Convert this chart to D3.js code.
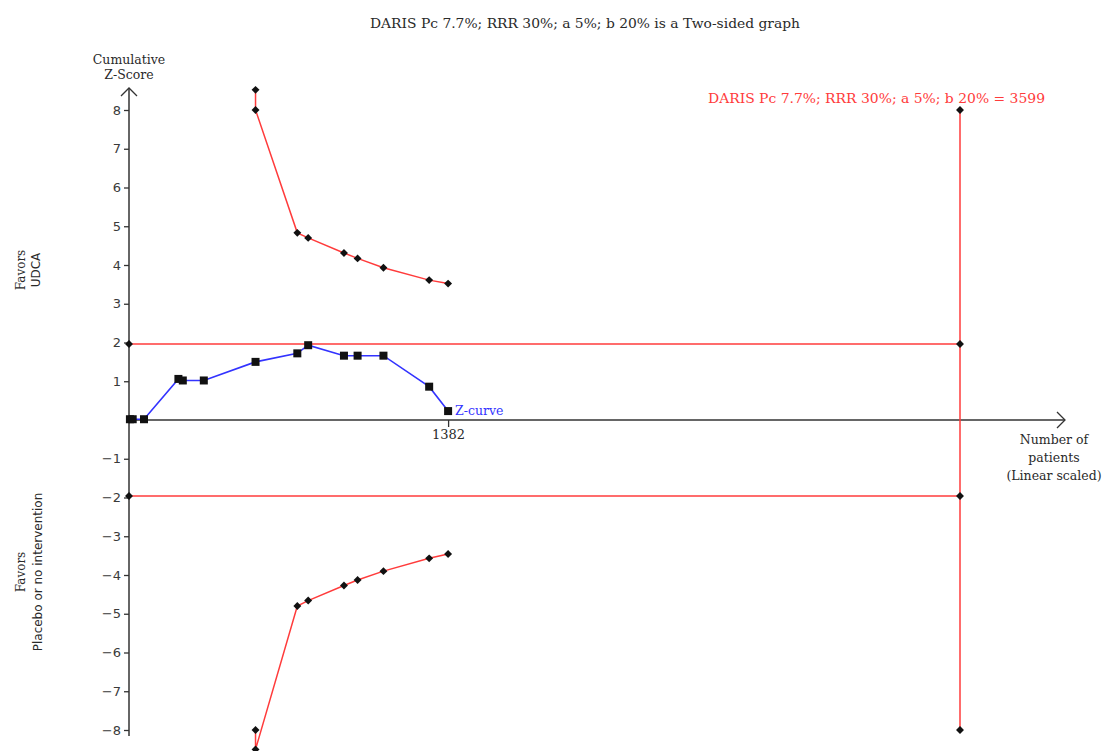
<!DOCTYPE html>
<html>
<head>
<meta charset="utf-8">
<script src="https://cdn.jsdelivr.net/npm/d3@7"></script>
<style>
  html, body { margin: 0; padding: 0; background: #fff; }
  svg { display: block; }
</style>
</head>
<body>
<svg id="chart" width="1105" height="751"></svg>
<script>
// Cumulative patients at each interim look
const patients = [4, 16, 65, 214, 233, 324, 548, 729, 776, 931, 990, 1102, 1300, 1382];
// Cumulative Z-score for UDCA vs placebo
const zCurve = [0.02, 0.02, 0.02, 1.06, 1.02, 1.02, 1.50, 1.72, 1.93, 1.66, 1.66, 1.66, 0.86, 0.23];

// Trial sequential monitoring boundaries (O'Brien-Fleming type)
const boundaryPatients = [548, 548, 729, 776, 931, 990, 1102, 1300, 1382];
const upperBoundary = [8.52, 8.0, 4.83, 4.70, 4.31, 4.17, 3.93, 3.61, 3.52];
const lowerBoundary = [-8.0, -8.5, -4.80, -4.66, -4.27, -4.13, -3.90, -3.57, -3.46];

const requiredSize = 3599;
const conventional = 1.96;
const yTicks = [-8, -7, -6, -5, -4, -3, -2, -1, 1, 2, 3, 4, 5, 6, 7, 8];
const xTicks = [1382];

const titleText = "DARIS Pc 7.7%; RRR 30%; a 5%; b 20% is a Two-sided graph";
const darisLabel = "DARIS Pc 7.7%; RRR 30%; a 5%; b 20% = 3599";

const svg = d3.select("#chart");
const serif = "'DejaVu Serif', 'Liberation Serif', serif";
const sans = "'DejaVu Sans', Verdana, sans-serif";

const x = d3.scaleLinear().domain([0, requiredSize]).range([129, 960]);
const y = d3.scaleLinear().domain([-8, 8]).range([730, 110]);

const red = "#ff3b3b";
const blue = "#3333ff";
const ink = "#2a2a2a";

// Title
svg.append("text").attr("x", 585).attr("y", 28).attr("text-anchor", "middle")
  .attr("font-family", serif).attr("font-size", 12.5).attr("fill", ink)
  .attr("textLength", 430).attr("lengthAdjust", "spacingAndGlyphs").text(titleText);

// Y axis with arrow
svg.append("line").attr("x1", x(0)).attr("x2", x(0)).attr("y1", 736).attr("y2", 88)
  .attr("stroke", "#333").attr("stroke-width", 1.5);
svg.append("path").attr("d", `M${x(0) - 8},${96} L${x(0)},${88} L${x(0) + 8},${96}`)
  .attr("fill", "none").attr("stroke", "#333").attr("stroke-width", 1.3);

const yAxis = d3.axisLeft(y).tickValues(yTicks).tickSize(5).tickPadding(3)
  .tickFormat(d => d < 0 ? "\u2212" + Math.abs(d) : d);
const yg = svg.append("g").attr("transform", `translate(${x(0)},0)`).call(yAxis);
yg.select(".domain").remove();
yg.selectAll(".tick line").attr("stroke", "#333").attr("stroke-width", 1.3);
yg.selectAll(".tick text").attr("font-family", sans).attr("font-size", 13).attr("fill", "#3a3a3a");

// X axis with arrow
svg.append("line").attr("x1", x(0)).attr("x2", 1065).attr("y1", y(0)).attr("y2", y(0))
  .attr("stroke", "#333").attr("stroke-width", 1.3);
svg.append("path").attr("d", `M${1057},${y(0) - 8} L${1065},${y(0)} L${1057},${y(0) + 8}`)
  .attr("fill", "none").attr("stroke", "#333").attr("stroke-width", 1.3);

const xAxis = d3.axisBottom(x).tickValues(xTicks).tickSize(7).tickPadding(3).tickFormat(d3.format("d"));
const xg = svg.append("g").attr("transform", `translate(0,${y(0)})`).call(xAxis);
xg.select(".domain").remove();
xg.selectAll(".tick line").attr("stroke", "#333").attr("stroke-width", 1.3);
xg.selectAll(".tick text").attr("font-family", serif).attr("font-size", 13).attr("fill", ink);

// Axis titles
const yTitle = svg.append("text").attr("text-anchor", "middle").attr("font-family", serif)
  .attr("font-size", 12.5).attr("fill", ink);
yTitle.append("tspan").attr("x", 129).attr("y", 64).text("Cumulative");
yTitle.append("tspan").attr("x", 129).attr("y", 79).text("Z-Score");

const xTitle = svg.append("text").attr("text-anchor", "middle").attr("font-family", serif)
  .attr("font-size", 12.5).attr("fill", ink);
xTitle.append("tspan").attr("x", 1054).attr("y", 444).text("Number of");
xTitle.append("tspan").attr("x", 1054).attr("y", 462).text("patients");
xTitle.append("tspan").attr("x", 1054).attr("y", 480).text("(Linear scaled)");

// Side labels
const favorTop = svg.append("text").attr("transform", `translate(0,270) rotate(-90)`)
  .attr("text-anchor", "middle").attr("font-size", 12).attr("fill", ink);
favorTop.append("tspan").attr("x", 0).attr("y", 25).attr("font-family", serif).text("Favors");
favorTop.append("tspan").attr("x", 0).attr("y", 40).attr("font-family", sans).text("UDCA");

const favorBottom = svg.append("text").attr("transform", `translate(0,572) rotate(-90)`)
  .attr("text-anchor", "middle").attr("font-size", 12).attr("fill", ink);
favorBottom.append("tspan").attr("x", 0).attr("y", 25).attr("font-family", serif).text("Favors");
favorBottom.append("tspan").attr("x", 0).attr("y", 42).attr("font-family", sans).text("Placebo or no intervention");

// Conventional boundaries and required information size
const redLines = svg.append("g").attr("stroke", red).attr("stroke-width", 1.5).attr("fill", "none");
[conventional, -conventional].forEach(v => {
  redLines.append("line").attr("x1", x(0)).attr("x2", x(requiredSize)).attr("y1", y(v)).attr("y2", y(v));
});
redLines.append("line").attr("x1", x(requiredSize)).attr("x2", x(requiredSize)).attr("y1", y(8)).attr("y2", y(-8));

svg.append("text").attr("x", 708).attr("y", 103)
  .attr("font-family", serif).attr("font-size", 13).attr("fill", red)
  .attr("textLength", 337).attr("lengthAdjust", "spacingAndGlyphs").text(darisLabel);

// Monitoring boundaries
const line = d3.line().x(d => x(d[0])).y(d => y(d[1]));
const upperPts = boundaryPatients.map((p, i) => [p, upperBoundary[i]]);
const lowerPts = boundaryPatients.map((p, i) => [p, lowerBoundary[i]]);
[upperPts, lowerPts].forEach(pts => {
  svg.append("path").datum(pts).attr("d", line).attr("fill", "none").attr("stroke", red).attr("stroke-width", 1.5);
});

// Z-curve
const zPts = patients.map((p, i) => [p, zCurve[i]]);
svg.append("path").datum(zPts).attr("d", line).attr("fill", "none").attr("stroke", blue).attr("stroke-width", 1.6);

// Markers
const diamond = d3.symbol().type(d3.symbolDiamond2).size(40);
const diamondPts = upperPts.concat(lowerPts).concat([
  [0, conventional], [0, -conventional],
  [requiredSize, conventional], [requiredSize, -conventional],
  [requiredSize, 8], [requiredSize, -8]
]);
svg.append("g").selectAll("path").data(diamondPts).join("path")
  .attr("transform", d => `translate(${x(d[0])},${y(d[1])})`)
  .attr("d", diamond).attr("fill", "#111");

svg.append("g").selectAll("rect").data(zPts).join("rect")
  .attr("x", d => x(d[0]) - 4).attr("y", d => y(d[1]) - 4)
  .attr("width", 8).attr("height", 8).attr("fill", "#111");

const last = zPts[zPts.length - 1];
svg.append("text").attr("x", x(last[0]) + 7).attr("y", y(last[1]) + 4)
  .attr("font-family", serif).attr("font-size", 12.5).attr("fill", blue).text("Z-curve");
</script>
</body>
</html>
